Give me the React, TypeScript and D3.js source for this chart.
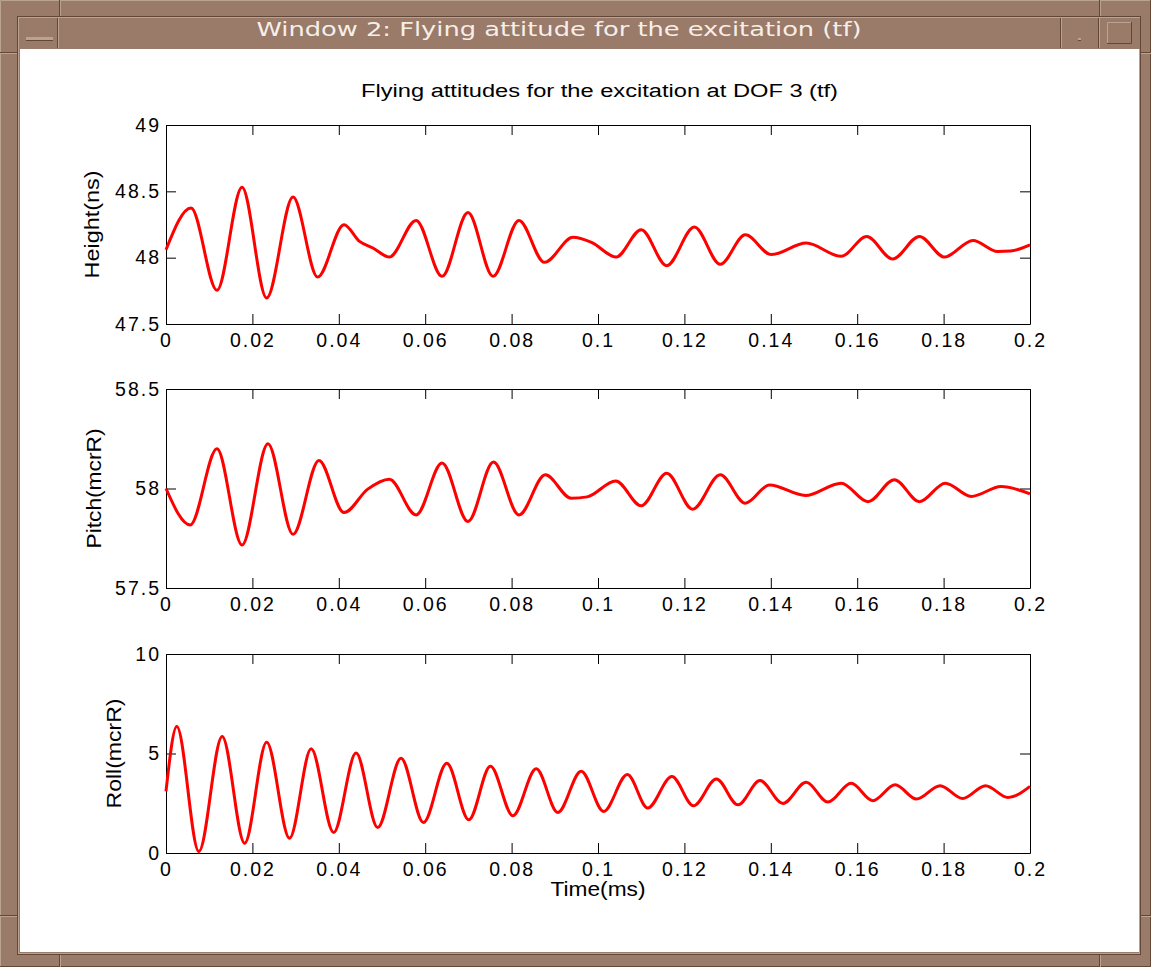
import React, { useEffect, useRef } from "react";
import * as d3 from "d3";

// time axis (ms)
const xTicks = [0, 0.02, 0.04, 0.06, 0.08, 0.1, 0.12, 0.14, 0.16, 0.18, 0.2];

// Height(ns) - turning points
const heightT = [0, 0.0058, 0.0118, 0.0176, 0.0233, 0.0294, 0.0351, 0.0412, 0.0448, 0.0479, 0.0517, 0.0579, 0.0639, 0.0699, 0.0757, 0.0817, 0.0876, 0.0942, 0.0985, 0.1042, 0.11, 0.1159, 0.1223, 0.1283, 0.1341, 0.1401, 0.1482, 0.1563, 0.1622, 0.1682, 0.1744, 0.1802, 0.1868, 0.1925, 0.1955, 0.2];
const heightV = [48.06, 48.375, 47.754, 48.53, 47.696, 48.457, 47.854, 48.249, 48.123, 48.073, 48.005, 48.281, 47.859, 48.341, 47.859, 48.281, 47.965, 48.153, 48.115, 48.005, 48.211, 47.94, 48.231, 47.95, 48.173, 48.023, 48.11, 48.01, 48.16, 47.99, 48.16, 48.005, 48.13, 48.047, 48.05, 48.096];
const heightTicks = [47.5, 48, 48.5, 49];

// Pitch(mcrR)
const pitchT = [0, 0.0056, 0.0118, 0.0176, 0.0236, 0.0294, 0.0354, 0.0412, 0.0467, 0.0517, 0.0579, 0.0639, 0.0699, 0.0758, 0.0817, 0.0878, 0.0938, 0.0975, 0.1041, 0.11, 0.1159, 0.1219, 0.1283, 0.1341, 0.1397, 0.148, 0.1563, 0.1625, 0.1686, 0.1744, 0.1804, 0.1864, 0.1933, 0.2];
const pitchV = [58.0, 57.817, 58.2, 57.716, 58.225, 57.77, 58.141, 57.879, 57.997, 58.047, 57.867, 58.128, 57.834, 58.133, 57.867, 58.069, 57.951, 57.958, 58.038, 57.913, 58.077, 57.896, 58.069, 57.926, 58.018, 57.965, 58.027, 57.934, 58.044, 57.934, 58.027, 57.96, 58.01, 57.973];
const pitchTicks = [57.5, 58, 58.5];

// Roll(mcrR)
const rollT = [0, 0.0025, 0.0076, 0.013, 0.0182, 0.0233, 0.0286, 0.0336, 0.0388, 0.044, 0.049, 0.0544, 0.0596, 0.065, 0.0701, 0.0751, 0.0803, 0.0857, 0.0907, 0.0961, 0.1013, 0.1068, 0.1115, 0.1171, 0.1221, 0.1274, 0.1324, 0.1375, 0.1428, 0.1482, 0.1532, 0.1586, 0.1636, 0.1688, 0.1737, 0.1792, 0.1844, 0.1897, 0.1949, 0.2];
const rollV = [3.1, 6.36, 0.07, 5.86, 0.49, 5.57, 0.74, 5.24, 1.03, 5.02, 1.28, 4.76, 1.53, 4.51, 1.67, 4.36, 1.87, 4.23, 2.04, 4.11, 2.09, 3.94, 2.26, 3.84, 2.37, 3.72, 2.42, 3.64, 2.49, 3.55, 2.56, 3.5, 2.63, 3.43, 2.71, 3.38, 2.74, 3.38, 2.79, 3.35];
const rollTicks = [0, 5, 10];

const FONT = "'Liberation Sans', Arial, Helvetica, sans-serif";
const LEFT = 166;
const RIGHT = 1030;
const PH = 199;

type PanelProps = {
  top: number;
  t: number[];
  v: number[];
  ticks: number[];
  label: string;
  labelX: number;
  labelLen: number;
};

const Panel = ({ top, t, v, ticks, label, labelX, labelLen }: PanelProps) => {
  const gRef = useRef<SVGGElement>(null);

  useEffect(() => {
    const g = d3.select(gRef.current);
    g.selectAll("*").remove();

    const x = d3.scaleLinear().domain([0, 0.2]).range([LEFT, RIGHT]);
    const y = d3
      .scaleLinear()
      .domain([ticks[0], ticks[ticks.length - 1]])
      .range([top + PH, top]);
    const fmt = (d: any) => String(d);
    const none = () => "";

    const axes = [
      { a: d3.axisBottom(x).tickValues(xTicks).tickFormat(fmt).tickPadding(9), tr: `translate(0,${top + PH})` },
      { a: d3.axisTop(x).tickValues(xTicks).tickFormat(none), tr: `translate(0,${top})` },
      { a: d3.axisLeft(y).tickValues(ticks).tickFormat(fmt).tickPadding(5), tr: `translate(${LEFT},0)` },
      { a: d3.axisRight(y).tickValues(ticks).tickFormat(none), tr: `translate(${RIGHT},0)` },
    ];
    axes.forEach(({ a, tr }) => {
      const ag = g
        .append("g")
        .attr("transform", tr)
        .call(a.tickSizeInner(-10).tickSizeOuter(0) as any);
      ag.attr("font-family", FONT).attr("font-size", 19.5);
      ag.selectAll(".domain").attr("stroke", "#000");
      ag.selectAll(".tick line").attr("stroke", "#000");
      ag.selectAll("text").attr("fill", "#000").style("letter-spacing", "2px");
    });

    // the curve goes through the turning points
    const line = d3
      .line<number>()
      .x((d, i) => x(t[i]))
      .y((d) => y(d))
      .curve(d3.curveMonotoneX);
    g.append("path")
      .datum(v)
      .attr("d", line)
      .attr("fill", "none")
      .attr("stroke", "#ff0000")
      .attr("stroke-width", 3)
      .attr("stroke-linejoin", "round");

    // y label
    const cy = top + PH / 2;
    g.append("text")
      .attr("transform", `translate(${labelX},${cy}) rotate(-90)`)
      .attr("text-anchor", "middle")
      .attr("font-family", FONT)
      .attr("font-size", 19.5)
      .attr("textLength", labelLen)
      .attr("lengthAdjust", "spacingAndGlyphs")
      .attr("fill", "#000")
      .text(label);
  }, []);

  return <g ref={gRef} />;
};

const App = () => {
  const brown = "#9a7a68";
  const light = "#bba392";
  const dark = "#624638";
  return (
    <svg width={1151} height={967} style={{ position: "absolute", left: 0, top: 0 }}>
      {/* window frame */}
      <rect x={0} y={0} width={1151} height={967} fill={brown} />
      <path d="M0.5,966V0.5H1150" stroke={light} fill="none" />
      <path d="M1150.5,0V966.5H0" stroke={dark} fill="none" />
      <rect x={17.5} y={16.5} width={1123} height={938} fill="none" stroke={dark} />
      <rect x={18.5} y={17.5} width={1121} height={936} fill="none" stroke={light} />
      {[59.5, 1099.5].map((cx) => (
        <g key={cx}>
          <line x1={cx} x2={cx} y1={0} y2={16} stroke={dark} />
          <line x1={cx + 1} x2={cx + 1} y1={0} y2={16} stroke={light} />
          <line x1={cx} x2={cx} y1={955} y2={967} stroke={dark} />
          <line x1={cx + 1} x2={cx + 1} y1={955} y2={967} stroke={light} />
        </g>
      ))}
      {[52.5, 915.5].map((cy) => (
        <g key={cy}>
          <line x1={0} x2={17} y1={cy} y2={cy} stroke={dark} />
          <line x1={0} x2={17} y1={cy + 1} y2={cy + 1} stroke={light} />
          <line x1={1141} x2={1151} y1={cy} y2={cy} stroke={dark} />
          <line x1={1141} x2={1151} y1={cy + 1} y2={cy + 1} stroke={light} />
        </g>
      ))}
      {/* title bar */}
      <rect x={19} y={18} width={1121} height={31} fill={brown} />
      {[57.5, 1060.5, 1098.5].map((sx) => (
        <g key={sx}>
          <line x1={sx} x2={sx} y1={18} y2={48} stroke={dark} />
          <line x1={sx + 1} x2={sx + 1} y1={18} y2={48} stroke={light} />
        </g>
      ))}
      <rect x={26} y={37} width={27} height={4} fill={light} />
      <line x1={26} x2={53} y1={40.5} y2={40.5} stroke={dark} />
      <rect x={1078} y={38} width={3} height={3} fill={light} />
      <line x1={1078} x2={1081} y1={40.5} y2={40.5} stroke={dark} />
      <path d="M1107.5,43.5V22.5H1131" stroke={light} fill="none" />
      <path d="M1131.5,22V43.5H1107" stroke={dark} fill="none" />
      <text
        x={559}
        y={36}
        textAnchor="middle"
        fontFamily="'DejaVu Sans Condensed', 'DejaVu Sans', sans-serif"
        fontSize={19}
        textLength={605}
        lengthAdjust="spacingAndGlyphs"
        fill="#f6efe9"
      >
        Window 2: Flying attitude for the excitation (tf)
      </text>

      {/* figure area */}
      <rect x={20} y={49} width={1119} height={903} fill="#fff" />
      <text
        x={599.5}
        y={97}
        textAnchor="middle"
        fontFamily={FONT}
        fontSize={18}
        textLength={477}
        lengthAdjust="spacingAndGlyphs"
        fill="#000"
      >
        Flying attitudes for the excitation at DOF 3 (tf)
      </text>
      <Panel top={125} t={heightT} v={heightV} ticks={heightTicks} label="Height(ns)" labelX={99} labelLen={108} />
      <Panel top={389} t={pitchT} v={pitchV} ticks={pitchTicks} label="Pitch(mcrR)" labelX={101} labelLen={120} />
      <Panel top={654} t={rollT} v={rollV} ticks={rollTicks} label="Roll(mcrR)" labelX={121} labelLen={110} />
      <text
        x={598}
        y={896}
        textAnchor="middle"
        fontFamily={FONT}
        fontSize={19.5}
        textLength={95}
        lengthAdjust="spacingAndGlyphs"
        fill="#000"
      >
        Time(ms)
      </text>
    </svg>
  );
};

export default App;
